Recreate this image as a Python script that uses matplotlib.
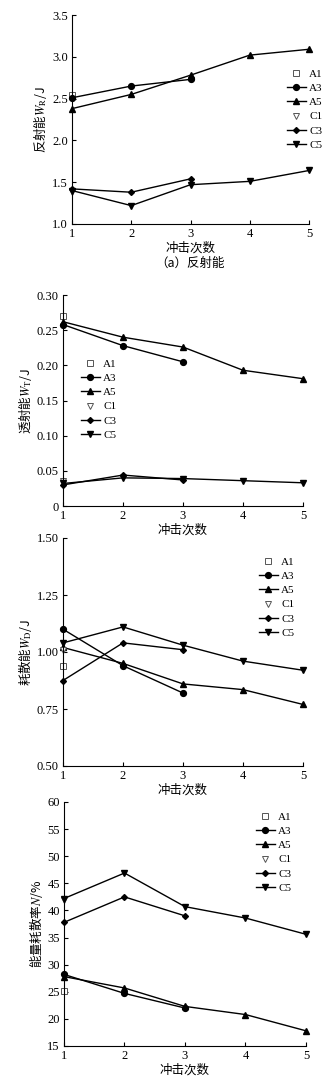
import numpy as np
import matplotlib.pyplot as plt

plt.rcParams['font.family'] = ['Liberation Serif', 'Noto Sans CJK SC']
plt.rcParams['mathtext.fontset'] = 'stix'

x_all = [1, 2, 3, 4, 5]
names = ['A1', 'A3', 'A5', 'C1', 'C3', 'C5']

# (a) reflected energy
wr = {
    'A1': [2.54],
    'A3': [2.51, 2.65, 2.73],
    'A5': [2.38, 2.55, 2.78, 3.02, 3.09],
    'C1': [1.38],
    'C3': [1.42, 1.38, 1.54],
    'C5': [1.40, 1.22, 1.47, 1.51, 1.64],
}
# transmitted energy
wt = {
    'A1': [0.270],
    'A3': [0.258, 0.228, 0.205],
    'A5': [0.262, 0.240, 0.226, 0.193, 0.181],
    'C1': [0.035],
    'C3': [0.030, 0.044, 0.037],
    'C5': [0.032, 0.040, 0.039, 0.036, 0.033],
}
# dissipated energy
wd = {
    'A1': [0.94],
    'A3': [1.10, 0.94, 0.82],
    'A5': [1.02, 0.95, 0.86, 0.835, 0.77],
    'C1': [1.01],
    'C3': [0.875, 1.04, 1.01],
    'C5': [1.04, 1.11, 1.03, 0.96, 0.92],
}
# dissipation ratio
nr = {
    'A1': [25.2],
    'A3': [28.2, 24.7, 22.0],
    'A5': [27.8, 25.7, 22.3, 20.8, 17.8],
    'C1': [42.0],
    'C3': [37.8, 42.5, 39.0],
    'C5': [42.2, 46.9, 40.7, 38.6, 35.6],
}

styles = {
    'A1': dict(marker='s', mfc='white', mec='#555555', ls='none', ms=3.8, mew=0.7),
    'A3': dict(marker='o', color='k', ms=4.2),
    'A5': dict(marker='^', color='k', ms=4.4),
    'C1': dict(marker='v', mfc='white', mec='#555555', ls='none', ms=4.8, mew=0.7),
    'C3': dict(marker='D', color='k', ms=3.0),
    'C5': dict(marker='v', color='k', ms=4.4),
}

W, H = 325, 1091
fig = plt.figure(figsize=(W / 100, H / 100), dpi=100)


def make_ax(l, t, r, b):
    return fig.add_axes([l / W, 1 - b / H, (r - l) / W, (b - t) / H])


panels = [
    (wr, (72, 15, 309, 224), (1.0, 3.5), np.arange(1.0, 3.51, 0.5),
     ['1.0', '1.5', '2.0', '2.5', '3.0', '3.5'], '反射能$W_\\mathrm{R}$/J', (287, 69)),
    (wt, (63, 295, 303, 506), (0, 0.30), np.arange(0, 0.301, 0.05),
     ['0', '0.05', '0.10', '0.15', '0.20', '0.25', '0.30'], '透射能$W_\\mathrm{T}$/J', (81, 359)),
    (wd, (63, 538, 303, 766), (0.5, 1.5), np.arange(0.5, 1.51, 0.25),
     ['0.50', '0.75', '1.00', '1.25', '1.50'], '耗散能$W_\\mathrm{D}$/J', (259, 557)),
    (nr, (64, 802, 306, 1046), (15, 60), np.arange(15, 61, 5),
     [str(v) for v in range(15, 61, 5)], '能量耗散率$N$/%', (256, 812)),
]

for data, box, ylim, yt, ytl, ylab, leg in panels:
    ax = make_ax(*box)
    for n in names:
        y = data[n]
        ax.plot(x_all[:len(y)], y, lw=1.0, label=n, clip_on=False, **styles[n])
    ax.set_xlim(1, 5)
    ax.set_ylim(*ylim)
    ax.set_xticks(x_all)
    ax.set_yticks(yt)
    ax.set_yticklabels(ytl)
    ax.spines['top'].set_visible(False)
    ax.spines['right'].set_visible(False)
    ax.spines['left'].set_linewidth(0.8)
    ax.spines['bottom'].set_linewidth(0.8)
    ax.tick_params(direction='in', length=3, width=0.8, labelsize=9, pad=3)
    ax.set_xlabel('冲击次数', fontsize=9, labelpad=1, family='Noto Sans CJK SC')
    ax.set_ylabel(ylab, fontsize=9, labelpad=2, family='Noto Sans CJK SC')
    ax.legend(loc='upper left', bbox_to_anchor=(leg[0] / W, 1 - leg[1] / H),
              bbox_transform=fig.transFigure, frameon=False, fontsize=8,
              handlelength=1.7, handletextpad=0.3, labelspacing=0.4,
              borderpad=0, borderaxespad=0)

fig.text(190 / W, 1 - 263 / H, '（a）反射能', ha='center', va='center', fontsize=9,
         family='Noto Sans CJK SC')

fig.savefig('out.png', dpi=100)
